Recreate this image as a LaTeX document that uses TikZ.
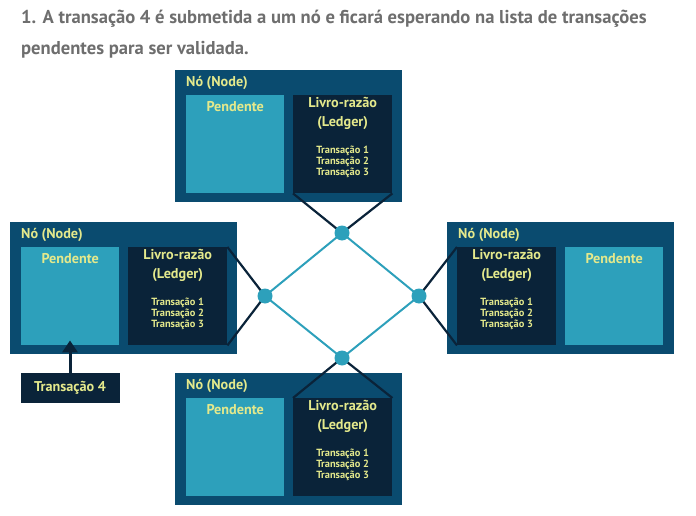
\documentclass[tikz,border=0pt]{standalone}
\usepackage{fontspec}
\setmainfont{PT Sans}
\usetikzlibrary{arrows.meta,positioning}
\definecolor{nodeBlue}{HTML}{0A4B6F}
\definecolor{pendTeal}{HTML}{2DA0BB}
\definecolor{ledgerNavy}{HTML}{0A2339}
\definecolor{labelYellow}{HTML}{E4E98C}
\definecolor{titleGrey}{HTML}{6E6E6E}

\begin{document}
\begin{tikzpicture}[x=1pt,y=-1pt,font=\bfseries,
  outerbox/.style={fill=nodeBlue,minimum width=227pt,minimum height=132pt,anchor=north west,inner sep=0pt},
  pendbox/.style={fill=pendTeal,minimum width=98pt,minimum height=98pt,anchor=north west,inner sep=0pt},
  ledbox/.style={fill=ledgerNavy,minimum width=99pt,minimum height=98pt,anchor=north west,inner sep=0pt},
  boxlabel/.style={text=labelYellow,inner sep=0pt,font=\fontsize{14.2}{19}\selectfont\bfseries,align=center},
  txlabel/.style={text=labelYellow,inner sep=0pt,font=\fontsize{10.4}{11}\selectfont\bfseries,align=center},
  title/.style={text=titleGrey,inner sep=0pt,anchor=base west,font=\fontsize{18.6}{20}\selectfont\bfseries},
  link/.style={draw=ledgerNavy,line width=2.2pt},
  mesh/.style={draw=pendTeal,line width=2pt},
  hub/.style={circle,fill=pendTeal,minimum size=15pt,inner sep=0pt}]
  \useasboundingbox (0,0) rectangle (696,516);
  \node[title] (title1) at (21,23.5) {1. A transação 4 é submetida a um nó e ficará esperando na lista de transações};
  \node[title] (title2) at (21,54.5) {pendentes para ser validada.};
  \foreach \n/\x/\y/\p/\l in {T/175/70/11/118,L/10/222/11/118,R/447/222/118/10,B/175/373/11/118}{
    \node[outerbox] (\n) at (\x,\y) {};
    \node[text=labelYellow,inner sep=0pt,anchor=west,font=\fontsize{14.2}{16}\selectfont\bfseries] (\n-name) at (\x+11,\y+13) {Nó (Node)};
    \node[pendbox] (\n-pend) at (\x+\p,\y+25) {};
    \node[ledbox] (\n-led) at (\x+\l,\y+25) {};
    \node[boxlabel] at ([yshift=-12pt]\n-pend.north) {Pendente};
    \node[boxlabel,anchor=north] at ([yshift=-2.5pt]\n-led.north) {Livro-razão\\(Ledger)};
    \node[txlabel,anchor=north] at ([yshift=-51pt]\n-led.north) {Transação 1\\Transação 2\\Transação 3};
  }
  \coordinate (hubT) at (342,233);
  \coordinate (hubL) at (265,296);
  \coordinate (hubR) at (419,296);
  \coordinate (hubB) at (342,358);
  \draw[link] (T-led.south west) -- (hubT) -- (T-led.south east);
  \draw[link] (L-led.north east) -- (hubL) -- (L-led.south east);
  \draw[link] (R-led.north west) -- (hubR) -- (R-led.south west);
  \draw[link] (B-led.north west) -- (hubB) -- (B-led.north east);
  \draw[mesh] (hubT) -- (hubR) -- (hubB) -- (hubL) -- cycle;
  \foreach \h in {hubT,hubL,hubR,hubB}
    \node[hub] at (\h) {};
  \node[fill=ledgerNavy,text=labelYellow,minimum width=99pt,minimum height=30pt,inner sep=0pt,font=\fontsize{14.2}{16}\selectfont\bfseries] (tx4) at (70,388) {Transação 4};
  \draw[ledgerNavy,line width=3pt,-{Triangle[width=15pt,length=12pt]}] (tx4.north) -- ([yshift=5pt]L-pend.south -| tx4.north);
\end{tikzpicture}
\end{document}
